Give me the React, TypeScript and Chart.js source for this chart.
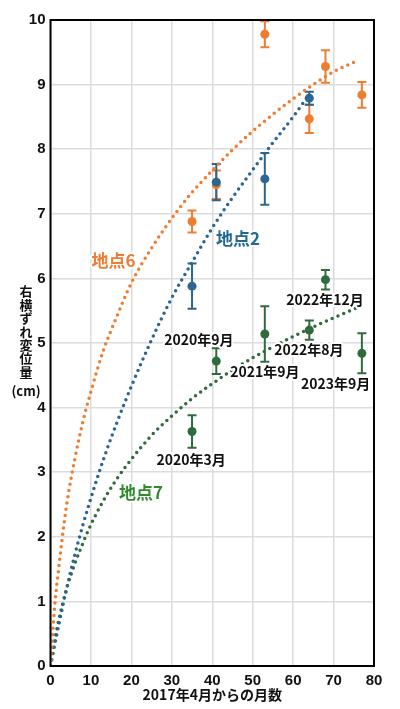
import React, { useEffect, useRef } from 'react';
import Chart from 'chart.js/auto';

// observed points: months since April 2017, lateral offset (cm), error (cm)
const months6 = [35, 41, 53, 64, 68, 77];
const offset6 = [6.88, 7.45, 9.78, 8.47, 9.28, 8.84];
const error6 = [0.17, 0.22, 0.2, 0.22, 0.25, 0.2];

const months2 = [35, 41, 53, 64];
const offset2 = [5.88, 7.49, 7.54, 8.79];
const error2 = [0.35, 0.28, 0.4, 0.1];

const months7 = [35, 41, 53, 64, 68, 77];
const offset7 = [3.63, 4.72, 5.14, 5.2, 5.98, 4.84];
const error7 = [0.25, 0.2, 0.43, 0.15, 0.15, 0.31];

// fitted curves
const curveX6 = [0, 1, 2, 4, 6, 8, 10, 13, 16, 20, 25, 30, 35, 40, 45, 50, 55, 60, 65, 70, 76];
const curveY6 = [0, 0.9, 1.5, 2.5, 3.2, 3.78, 4.25, 4.87, 5.35, 5.93, 6.47, 6.93, 7.33, 7.67, 7.99, 8.28, 8.54, 8.78, 9.0, 9.2, 9.37];

const curveX2 = [0, 2, 4, 6, 8, 10, 13, 16, 20, 25, 30, 35, 40, 45, 50, 55, 60, 64];
const curveY2 = [0, 0.62, 1.2, 1.72, 2.18, 2.6, 3.18, 3.7, 4.33, 5.05, 5.7, 6.25, 6.78, 7.25, 7.68, 8.1, 8.5, 8.85];

const curveX7 = [0, 1, 2, 4, 6, 8, 10, 13, 16, 20, 25, 30, 35, 40, 45, 50, 55, 60, 65, 70, 76];
const curveY7 = [0, 0.38, 0.7, 1.2, 1.58, 1.9, 2.19, 2.55, 2.86, 3.2, 3.57, 3.87, 4.14, 4.37, 4.58, 4.77, 4.94, 5.1, 5.25, 5.39, 5.55];

const siteNames = ['地点6', '地点2', '地点7'];
const dateLabels = ['2020年3月', '2020年9月', '2021年9月', '2022年8月', '2022年12月', '2023年9月'];
const dateLabelX = [34.8, 36.7, 53.0, 63.9, 67.9, 70.5];
const dateLabelY = [3.2, 5.05, 4.56, 4.89, 5.67, 4.37];

const xTitle = '2017年4月からの月数';
const yTitle = ['右', '横', 'ず', 'れ', '変', '位', '量'];

const ORANGE = '#ed7d31';
const BLUE = '#2b6690';
const GREEN = '#2f6b3d';
const CJK = '"Noto Sans CJK JP", "Noto Sans", sans-serif';
const LATIN = '"Liberation Sans", Arial, sans-serif';

const toPoints = (xs: number[], ys: number[]) => xs.map((x, i) => ({ x, y: ys[i] }));

const errorSets = [
  { xs: months6, ys: offset6, errs: error6, color: ORANGE },
  { xs: months2, ys: offset2, errs: error2, color: BLUE },
  { xs: months7, ys: offset7, errs: error7, color: GREEN },
];

const siteLabels = [
  { text: siteNames[0], x: 15.6, y: 6.28, color: ORANGE },
  { text: siteNames[1], x: 46.4, y: 6.61, color: '#23698f' },
  { text: siteNames[2], x: 22.4, y: 2.69, color: '#338a2e' },
];

const overlay = {
  id: 'overlay',
  beforeDatasetsDraw(chart: any) {
    const { ctx, scales } = chart;
    ctx.save();
    ctx.lineWidth = 2;
    errorSets.forEach(set => {
      ctx.strokeStyle = set.color;
      set.xs.forEach((m, i) => {
        const px = scales.x.getPixelForValue(m);
        const top = scales.y.getPixelForValue(set.ys[i] + set.errs[i]);
        const bot = scales.y.getPixelForValue(set.ys[i] - set.errs[i]);
        ctx.beginPath();
        ctx.moveTo(px, top);
        ctx.lineTo(px, bot);
        ctx.moveTo(px - 4.5, top);
        ctx.lineTo(px + 4.5, top);
        ctx.moveTo(px - 4.5, bot);
        ctx.lineTo(px + 4.5, bot);
        ctx.stroke();
      });
    });
    ctx.restore();
  },
  afterDatasetsDraw(chart: any) {
    const { ctx, scales } = chart;
    ctx.save();
    ctx.textAlign = 'center';
    ctx.textBaseline = 'middle';
    ctx.lineJoin = 'round';
    ctx.strokeStyle = 'white';
    ctx.lineWidth = 4;

    ctx.font = `bold 14px ${CJK}`;
    dateLabels.forEach((t, i) => {
      const px = scales.x.getPixelForValue(dateLabelX[i]);
      const py = scales.y.getPixelForValue(dateLabelY[i]);
      ctx.strokeText(t, px, py);
      ctx.fillStyle = '#111';
      ctx.fillText(t, px, py);
    });

    ctx.font = `bold 17px ${CJK}`;
    siteLabels.forEach(l => {
      const px = scales.x.getPixelForValue(l.x);
      const py = scales.y.getPixelForValue(l.y);
      ctx.strokeText(l.text, px, py);
      ctx.fillStyle = l.color;
      ctx.fillText(l.text, px, py);
    });
    ctx.restore();
  },
  afterDraw(chart: any) {
    const { ctx, chartArea } = chart;
    ctx.save();
    ctx.strokeStyle = '#000';
    ctx.lineWidth = 2;
    ctx.strokeRect(chartArea.left, chartArea.top, chartArea.right - chartArea.left, chartArea.bottom - chartArea.top);

    ctx.fillStyle = '#111';
    ctx.textAlign = 'center';
    ctx.textBaseline = 'middle';
    ctx.font = `bold 14px ${CJK}`;
    ctx.fillText(xTitle, (chartArea.left + chartArea.right) / 2, 695);

    ctx.font = `bold 13px ${CJK}`;
    yTitle.forEach((c, i) => ctx.fillText(c, 26, 291.5 + i * 13.4));
    ctx.fillText('(cm)', 26, 391);
    ctx.restore();
  },
};

const dotted = (color: string) => ({
  showLine: true,
  borderColor: color,
  borderWidth: 3.5,
  borderDash: [0, 6.3],
  borderCapStyle: 'round' as const,
  pointRadius: 0,
  cubicInterpolationMode: 'monotone' as const,
  fill: false,
});

const markers = (color: string) => ({
  showLine: false,
  pointRadius: 4.5,
  pointBackgroundColor: color,
  pointBorderWidth: 0,
});

export default function App() {
  const chartRef = useRef<HTMLCanvasElement>(null);
  const chartInstance = useRef<Chart | null>(null);

  useEffect(() => {
    if (!chartRef.current) return;
    if (chartInstance.current) chartInstance.current.destroy();
    const ctx = chartRef.current.getContext('2d');
    if (!ctx) return;

    chartInstance.current = new Chart(ctx, {
      type: 'scatter',
      data: {
        datasets: [
          { label: siteNames[1], data: toPoints(months2, offset2), ...markers(BLUE) },
          { label: siteNames[0], data: toPoints(months6, offset6), ...markers(ORANGE) },
          { label: siteNames[2], data: toPoints(months7, offset7), ...markers(GREEN) },
          { label: 'fit6', data: toPoints(curveX6, curveY6), ...dotted(ORANGE) },
          { label: 'fit2', data: toPoints(curveX2, curveY2), ...dotted(BLUE) },
          { label: 'fit7', data: toPoints(curveX7, curveY7), ...dotted(GREEN) },
        ],
      },
      options: {
        animation: false,
        responsive: true,
        maintainAspectRatio: false,
        layout: { padding: { top: 20, right: 26, left: 0, bottom: 0 } },
        plugins: { legend: { display: false }, tooltip: { enabled: false } },
        scales: {
          x: {
            type: 'linear',
            min: 0,
            max: 80,
            afterFit: (scale: any) => { scale.height = 43; },
            ticks: { stepSize: 10, padding: 6, color: '#111', font: { family: LATIN, size: 15, weight: 'bold' } },
            grid: { color: '#dcdcdc', lineWidth: 1.5, drawTicks: false },
            border: { display: false },
          },
          y: {
            type: 'linear',
            min: 0,
            max: 10,
            afterFit: (scale: any) => { scale.width = 50.5; },
            ticks: { stepSize: 1, padding: 5, color: '#111', font: { family: LATIN, size: 15, weight: 'bold' } },
            grid: { color: '#dcdcdc', lineWidth: 1.5, drawTicks: false },
            border: { display: false },
          },
        },
      },
      plugins: [overlay],
    });

    return () => {
      if (chartInstance.current) {
        chartInstance.current.destroy();
        chartInstance.current = null;
      }
    };
  }, []);

  return (
    <div style={{ position: 'fixed', left: 0, top: 0, width: 400, height: 709, background: '#fff' }}>
      <canvas ref={chartRef}></canvas>
    </div>
  );
}
